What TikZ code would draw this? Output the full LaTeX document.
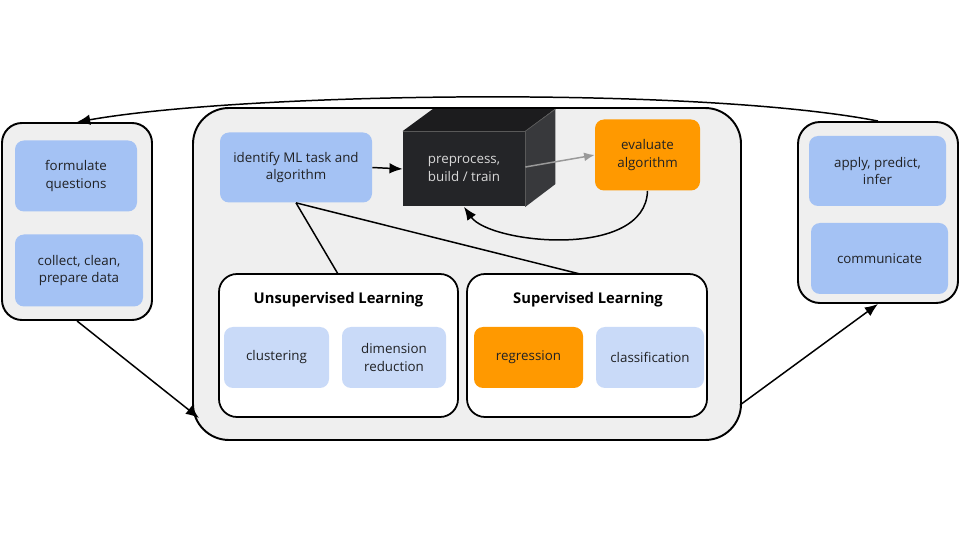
\documentclass[tikz,border=0pt]{standalone}
\usepackage{fontspec}
\setmainfont{Open Sans}
\usetikzlibrary{arrows.meta}
\definecolor{panelgray}{HTML}{EFEFEF}
\definecolor{taskblue}{HTML}{A4C2F4}
\definecolor{methblue}{HTML}{C9DAF8}
\definecolor{evalorange}{HTML}{FF9900}
\definecolor{cubefront}{HTML}{242528}
\definecolor{cubetop}{HTML}{1C1C1E}
\definecolor{cubeside}{HTML}{38393C}
\definecolor{textdark}{HTML}{202124}
\newdimen\pxu \pxu=0.02cm
\tikzset{
  panel/.style={draw=black, line width=1.1pt, fill=panelgray, inner sep=0pt},
  groupbox/.style={draw=black, line width=1pt, fill=white, rounded corners=18\pxu, inner sep=0pt},
  taskbox/.style={fill=taskblue, rounded corners=9\pxu, inner sep=0pt, align=center,
    text=textdark, font=\fontsize{7.6}{10}\selectfont},
  methbox/.style={taskbox, fill=methblue},
  evalbox/.style={taskbox, fill=evalorange},
  grouptitle/.style={font=\fontsize{8.4}{10}\selectfont\bfseries, text=black},
  flow/.style={line width=0.85pt, -{Latex[length=7.5pt,width=6pt]}},
  tie/.style={line width=0.85pt}
}
\begin{document}
\begin{tikzpicture}[x=\pxu, y=-\pxu]
\useasboundingbox (0,0) rectangle (960,540);
% panels
\node[panel, rounded corners=20\pxu, minimum width=150\pxu, minimum height=197\pxu] (leftpanel) at (77,221.5) {};
\node[panel, rounded corners=36\pxu, minimum width=548\pxu, minimum height=332\pxu] (midpanel) at (467,274) {};
\node[panel, rounded corners=22\pxu, minimum width=160\pxu, minimum height=181\pxu] (rightpanel) at (878,212.5) {};
% left panel
\node[taskbox, minimum width=122\pxu, minimum height=71\pxu] (formulate) at (76,176) {formulate\\questions};
\node[taskbox, minimum width=128\pxu, minimum height=72\pxu] (collect) at (79,270.5) {collect, clean,\\prepare data};
% middle panel
\node[taskbox, minimum width=152\pxu, minimum height=70\pxu] (identify) at (296,167.5) {identify ML task and\\algorithm};
\node[evalbox, minimum width=105\pxu, minimum height=71\pxu] (evaluate) at (647.5,155) {evaluate\\algorithm};
\node[fill=cubefront, inner sep=0pt, minimum width=122\pxu, minimum height=75\pxu, align=center,
  text=white!85!black, font=\fontsize{7.6}{10}\selectfont] (train) at (464,169) {preprocess,\\build / train};
\fill[cubetop] (train.north west) -- ++(30,-22) -- ++(122,0) -- (train.north east) -- cycle;
\fill[cubeside] (train.north east) -- ++(30,-22) -- ++(0,75) -- (train.south east) -- cycle;
\draw[white!35!black, line width=0.4pt] (train.north west) -- (train.north east) -- (train.south east);
\draw[white!35!black, line width=0.4pt] (train.north east) -- ++(30,-22);
\draw[flow] (identify.east) -- (train.west);
\draw[flow, draw=white!60!black, -{Latex[length=6pt,width=5pt]}] ([yshift=2\pxu]train.east) -- (evaluate.west);
\draw[flow] (evaluate.south) .. controls +(-2,69) and +(26,37) .. (train.south);
% learning groups
\node[groupbox, minimum width=239\pxu, minimum height=143\pxu] (unsup) at (338.5,345.5) {};
\node[groupbox, minimum width=240\pxu, minimum height=143\pxu] (sup) at (587,345.5) {};
\node[grouptitle] (unsuptitle) at (338.5,300) {Unsupervised Learning};
\node[grouptitle] (suptitle) at (588,300) {Supervised Learning};
\node[methbox, minimum width=105\pxu, minimum height=61\pxu] (clustering) at (276.5,357.5) {clustering};
\node[methbox, minimum width=104\pxu, minimum height=61\pxu] (dimred) at (394,357.5) {dimension\\reduction};
\node[evalbox, minimum width=109\pxu, minimum height=61\pxu] (regression) at (528.5,357.5) {regression};
\node[methbox, minimum width=108\pxu, minimum height=61\pxu] (classification) at (650,357.5) {classification};
\coordinate (unsuptop) at (338,274);
\coordinate (suptop) at (580,274);
\draw[tie] (identify.south) -- (unsuptop);
\draw[tie] (identify.south) -- (suptop);
% right panel
\node[taskbox, minimum width=137\pxu, minimum height=70\pxu] (apply) at (877.5,171) {apply, predict,\\infer};
\node[taskbox, minimum width=137\pxu, minimum height=71\pxu] (communicate) at (879.5,258.5) {communicate};
% flow between panels
\coordinate (midin) at (199,418);
\coordinate (midout) at (740,405);
\draw[flow] (leftpanel.south) -- (midin);
\draw[flow] (midout) -- (rightpanel.south);
\draw[flow] (rightpanel.north) .. controls +(-180,-35) and +(170,-30) .. (leftpanel.north);
\end{tikzpicture}
\end{document}
